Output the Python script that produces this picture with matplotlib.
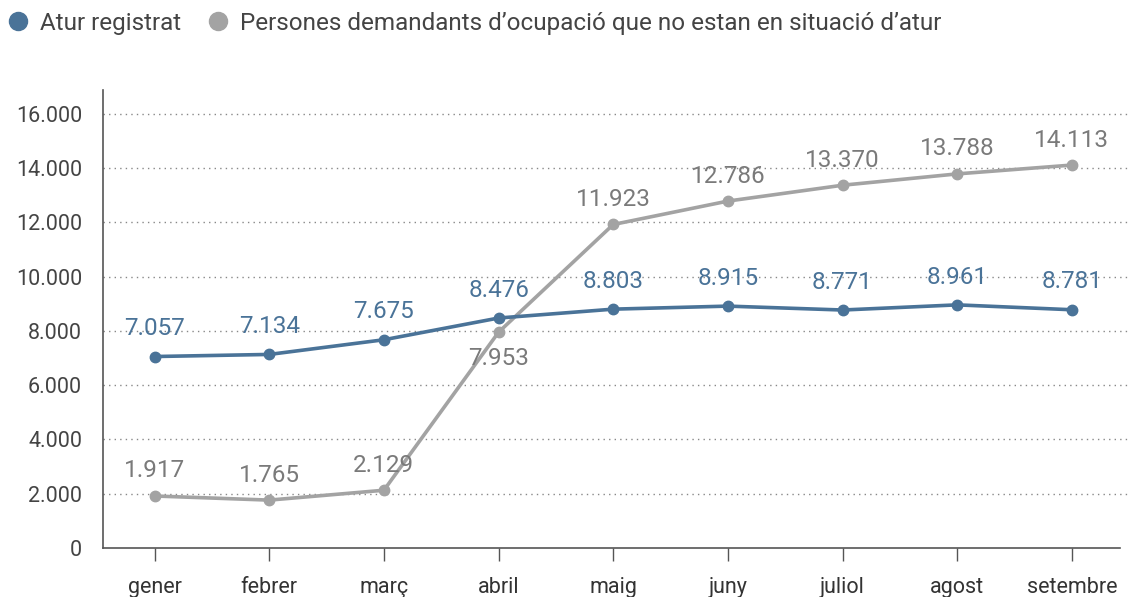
import matplotlib
matplotlib.use("Agg")
import matplotlib.pyplot as plt
from matplotlib.lines import Line2D

months = ["gener", "febrer", "març", "abril", "maig", "juny", "juliol", "agost", "setembre"]
atur = [7057, 7134, 7675, 8476, 8803, 8915, 8771, 8961, 8781]
demandants = [1917, 1765, 2129, 7953, 11923, 12786, 13370, 13788, 14113]
yticks = [0, 2000, 4000, 6000, 8000, 10000, 12000, 14000, 16000]
series_names = ["Atur registrat", "Persones demandants d\u2019ocupació que no estan en situació d\u2019atur"]

def fmt(v):
    return f"{v:,}".replace(",", ".")

plt.rcParams['font.family'] = ['Roboto', 'DejaVu Sans']
blue = "#4a7398"
grey = "#a3a3a3"
grey_txt = "#7a7a7a"

fig = plt.figure(figsize=(11.28, 5.97), dpi=100)
ax = fig.add_axes([103/1128, 1-548/597, (1120-103)/1128, (548-90)/597])

x = list(range(len(months)))
ax.plot(x, demandants, color=grey, lw=2.6, marker="o", ms=7.5, zorder=3)
ax.plot(x, atur, color=blue, lw=2.6, marker="o", ms=7.5, zorder=4)

for i, v in enumerate(atur):
    ax.annotate(fmt(v), (i, v), xytext=(0, 20), textcoords="offset points",
                ha="center", va="center", fontsize=17.5, color=blue, zorder=5)
for i, v in enumerate(demandants):
    off = -19 if months[i] == "abril" else 18
    ax.annotate(fmt(v), (i, v), xytext=(0, off), textcoords="offset points",
                ha="center", va="center", fontsize=17.5, color=grey_txt, zorder=5)

ax.set_xlim(-0.45, 8.42)
ax.set_ylim(0, 16880)
ax.set_yticks(yticks)
ax.set_yticklabels([fmt(v) for v in yticks], fontsize=15.5, color="#444444")
ax.set_xticks(x)
ax.set_xticklabels(months, fontsize=15.5, color="#333333")
ax.tick_params(axis="y", length=0, pad=15)
ax.tick_params(axis="x", length=9, width=1, color="#555555", pad=12, direction="out")
for yt in yticks[1:]:
    ax.plot([-0.45, 8.9], [yt, yt], ls=(0, (1, 3)), color="#888888", lw=1,
            clip_on=False, zorder=1)
for s in ["top", "right"]:
    ax.spines[s].set_visible(False)
for s in ["left", "bottom"]:
    ax.spines[s].set_color("#555555")
    ax.spines[s].set_linewidth(1.2)

handles = [Line2D([], [], color=blue, marker="o", ls="none", ms=13),
           Line2D([], [], color=grey, marker="o", ls="none", ms=13)]
fig.legend(handles, series_names, loc="upper left", bbox_to_anchor=(0.0, 0.98),
           ncol=2, frameon=False, fontsize=17.5, handletextpad=0.15,
           columnspacing=0.75, labelcolor="#444444", handlelength=1.5,
           borderpad=0, borderaxespad=0)

fig.savefig("out.png", dpi=100)
